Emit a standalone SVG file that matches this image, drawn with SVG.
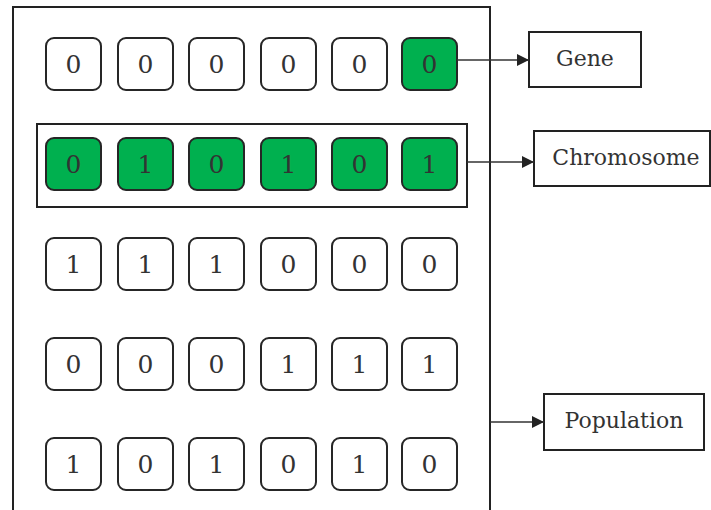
<svg xmlns="http://www.w3.org/2000/svg" width="711" height="510" viewBox="0 0 711 510">
  <style>
    .cell { fill: #ffffff; stroke: #262626; stroke-width: 2; }
    .on { fill: #00b04f; }
    .box { fill: #ffffff; stroke: #222222; stroke-width: 2; }
    .frame { fill: none; stroke: #222222; stroke-width: 2; }
    text { font-family: 'DejaVu Serif', serif; fill: #333333; text-anchor: middle; }
    .digit { font-size: 25px; }
    .label { font-size: 22px; }
    .link { stroke: #333333; stroke-width: 1.3; fill: none; marker-end: url(#head); }
  </style>
  <defs>
    <marker id="head" viewBox="0 0 12 12" refX="12" refY="6" markerWidth="12" markerHeight="12" markerUnits="userSpaceOnUse" orient="auto">
      <path d="M0,0 L12,6 L0,12 Z" fill="#222222"/>
    </marker>
    <rect id="c" width="55" height="52" rx="8" ry="8"/>
  </defs>

  <rect width="711" height="510" fill="#ffffff"/>

  <!-- population frame, open at the bottom -->
  <g id="population-frame">
    <path class="frame" d="M13,512 L13,7 L490,7 L490,512"/>
  </g>

  <!-- chromosome outline -->
  <g id="chromosome-frame">
    <rect class="frame" x="37" y="124" width="430" height="83"/>
  </g>

  <!-- row 1 -->
  <g id="row1">
    <use href="#c" class="cell" x="46" y="38"/><text class="digit" x="73.5" y="73">0</text>
    <use href="#c" class="cell" x="118" y="38"/><text class="digit" x="145.5" y="73">0</text>
    <use href="#c" class="cell" x="189" y="38"/><text class="digit" x="216.5" y="73">0</text>
    <use href="#c" class="cell" x="261" y="38"/><text class="digit" x="288.5" y="73">0</text>
    <use href="#c" class="cell" x="332" y="38"/><text class="digit" x="359.5" y="73">0</text>
    <use href="#c" class="cell on" x="402" y="38"/><text class="digit" x="429.5" y="73">0</text>
  </g>

  <!-- row 2 -->
  <g id="row2">
    <use href="#c" class="cell on" x="46" y="138"/><text class="digit" x="73.5" y="173">0</text>
    <use href="#c" class="cell on" x="118" y="138"/><text class="digit" x="145.5" y="173">1</text>
    <use href="#c" class="cell on" x="189" y="138"/><text class="digit" x="216.5" y="173">0</text>
    <use href="#c" class="cell on" x="261" y="138"/><text class="digit" x="288.5" y="173">1</text>
    <use href="#c" class="cell on" x="332" y="138"/><text class="digit" x="359.5" y="173">0</text>
    <use href="#c" class="cell on" x="402" y="138"/><text class="digit" x="429.5" y="173">1</text>
  </g>

  <!-- row 3 -->
  <g id="row3">
    <use href="#c" class="cell" x="46" y="238"/><text class="digit" x="73.5" y="273">1</text>
    <use href="#c" class="cell" x="118" y="238"/><text class="digit" x="145.5" y="273">1</text>
    <use href="#c" class="cell" x="189" y="238"/><text class="digit" x="216.5" y="273">1</text>
    <use href="#c" class="cell" x="261" y="238"/><text class="digit" x="288.5" y="273">0</text>
    <use href="#c" class="cell" x="332" y="238"/><text class="digit" x="359.5" y="273">0</text>
    <use href="#c" class="cell" x="402" y="238"/><text class="digit" x="429.5" y="273">0</text>
  </g>

  <!-- row 4 -->
  <g id="row4">
    <use href="#c" class="cell" x="46" y="338"/><text class="digit" x="73.5" y="373">0</text>
    <use href="#c" class="cell" x="118" y="338"/><text class="digit" x="145.5" y="373">0</text>
    <use href="#c" class="cell" x="189" y="338"/><text class="digit" x="216.5" y="373">0</text>
    <use href="#c" class="cell" x="261" y="338"/><text class="digit" x="288.5" y="373">1</text>
    <use href="#c" class="cell" x="332" y="338"/><text class="digit" x="359.5" y="373">1</text>
    <use href="#c" class="cell" x="402" y="338"/><text class="digit" x="429.5" y="373">1</text>
  </g>

  <!-- row 5 -->
  <g id="row5">
    <use href="#c" class="cell" x="46" y="438"/><text class="digit" x="73.5" y="473">1</text>
    <use href="#c" class="cell" x="118" y="438"/><text class="digit" x="145.5" y="473">0</text>
    <use href="#c" class="cell" x="189" y="438"/><text class="digit" x="216.5" y="473">1</text>
    <use href="#c" class="cell" x="261" y="438"/><text class="digit" x="288.5" y="473">0</text>
    <use href="#c" class="cell" x="332" y="438"/><text class="digit" x="359.5" y="473">1</text>
    <use href="#c" class="cell" x="402" y="438"/><text class="digit" x="429.5" y="473">0</text>
  </g>

  <!-- labels -->
  <g id="gene">
    <rect class="box" x="529" y="32" width="112" height="55"/>
    <text class="label" x="585" y="66">Gene</text>
  </g>
  <g id="chromosome">
    <rect class="box" x="534" y="131" width="176" height="55"/>
    <text class="label" x="626" y="165">Chromosome</text>
  </g>
  <g id="population">
    <rect class="box" x="544" y="394" width="160" height="56"/>
    <text class="label" x="624" y="428">Population</text>
  </g>

  <!-- connectors -->
  <g id="connectors">
    <line class="link" x1="457" y1="60" x2="529" y2="60"/>
    <line class="link" x1="467" y1="162" x2="534" y2="162"/>
    <line class="link" x1="490" y1="422" x2="544" y2="422"/>
  </g>
</svg>
